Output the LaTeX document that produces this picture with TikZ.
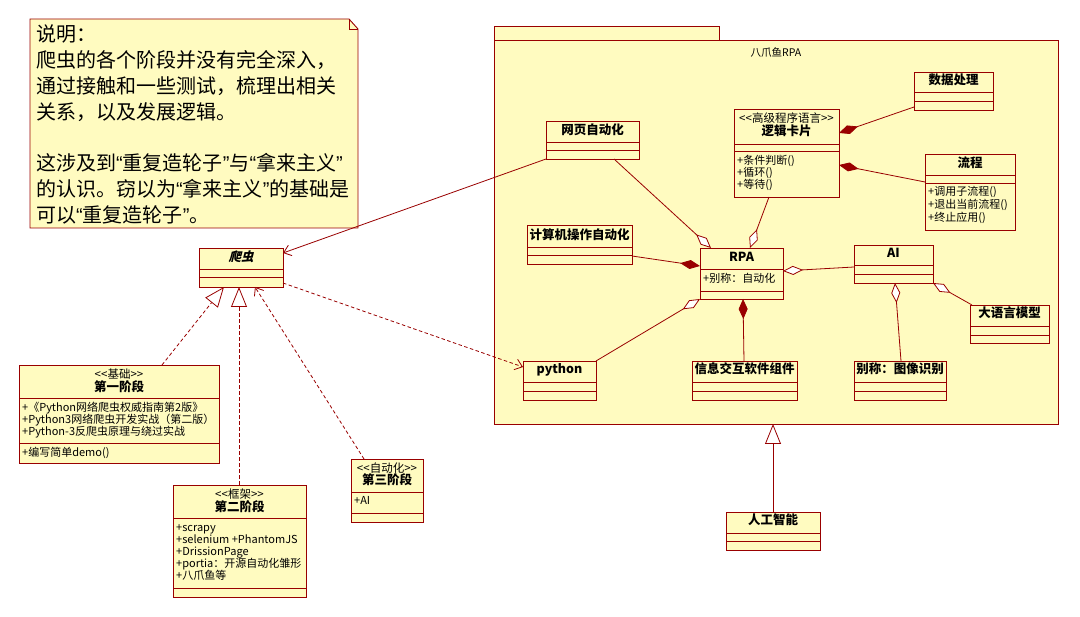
\documentclass[tikz,border=0pt]{standalone}
\usepackage{fontspec}
\setmainfont{Noto Sans CJK SC}
\newfontfamily\slfont{Noto Sans CJK SC}[FakeSlant=0.25]
\newfontfamily\qfont{Liberation Sans}
\usetikzlibrary{arrows.meta}
\definecolor{lc}{HTML}{990000}
\definecolor{fc}{HTML}{FFFBC0}
\newcommand{\stL}{<\kern0pt<}
\newcommand{\stR}{>\kern0pt>}
\newcommand{\qo}{{\qfont “}}
\newcommand{\qc}{{\qfont ”}}
\tikzset{
  cbox/.style={draw=lc, fill=fc, line width=0.9pt, inner sep=0pt, outer sep=0pt, anchor=north west},
  divl/.style={draw=lc, line width=0.9pt},
  ttl/.style={font=\fontsize{12.5}{14}\selectfont\bfseries, inner sep=0pt, text height=8.5pt, text depth=2.5pt},
  ster/.style={font=\fontsize{11.5}{13}\selectfont, inner sep=0pt, text height=8pt, text depth=2.5pt},
  attr/.style={font=\fontsize{11}{13}\selectfont, inner sep=0pt, anchor=west, text height=8pt, text depth=2.5pt},
  conn/.style={draw=lc, line width=0.8pt},
  dsh/.style={dash pattern=on 3.5pt off 2.5pt},
  aggline/.style={conn, -{Diamond[fill=white, length=20pt, width=9pt]}},
  compline/.style={conn, -{Diamond[fill=lc, length=20pt, width=9pt]}},
  genline/.style={conn, -{Triangle[fill=white, length=20pt, width=16pt]}},
  realline/.style={conn, dsh, -{Triangle[fill=white, length=20pt, width=16pt]}},
  depline/.style={conn, dsh, -{Straight Barb[length=7pt, width=11pt]}},
  assocline/.style={conn, -{Straight Barb[length=7pt, width=11pt]}},
}
\newcommand{\umlclass}[7]{%
  \node[cbox, minimum width={(#4-#2)*1pt}, minimum height={(#5-#3)*1pt}] (#1) at (#2,#3) {};
  \draw[divl] (#2,#6) -- (#4,#6);
  \draw[divl] (#2,#7) -- (#4,#7);
}
\begin{document}
\begin{tikzpicture}[x=1pt, y=-1pt]
\useasboundingbox[fill=white] (0,0) rectangle (1080,617);

% note
\draw[draw=lc, fill=fc, line width=0.9pt] (30,19) -- (349,19) -- (358,29) -- (358,228) -- (30,228) -- cycle;
\draw[draw=lc, line width=0.9pt] (349,19) -- (349,29) -- (358,29);
\node[anchor=north west, align=left, inner sep=0pt, font=\fontsize{20}{25.8}\selectfont] (notetext) at (36,25)
  {说明：\\爬虫的各个阶段并没有完全深入，\\通过接触和一些测试，梳理出相关\\关系，以及发展逻辑。\\[25.8pt]这涉及到\qo 重复造轮子\qc 与\qo 拿来主义\qc\\的认识。窃以为\qo 拿来主义\qc 的基础是\\可以\qo 重复造轮子\qc 。};

% package
\node[cbox, minimum width=225pt, minimum height=14pt] (pkgtab) at (494,26) {};
\node[cbox, minimum width=564pt, minimum height=384pt] (pkg) at (494,40) {};
\node[font=\fontsize{10.5}{12}\selectfont, inner sep=0pt] (pkgname) at (776,52) {八爪鱼RPA};

% classes
\umlclass{crawl}{199}{248}{283}{287}{269}{277}
\node[ttl] (crawlT) at (241,258.5) {\slfont\bfseries 爬虫};

\umlclass{s1}{19}{365}{219}{463}{398}{443}
\node[ster] (s1S) at (119,376) {\stL 基础\stR};
\node[ttl] (s1T) at (119,389) {第一阶段};
\node[attr] (s1a) at (22,409) {+《Python网络爬虫权威指南第2版》};
\node[attr] (s1b) at (22,421) {+Python3网络爬虫开发实战（第二版）};
\node[attr] (s1c) at (22,433) {+Python-3反爬虫原理与绕过实战};
\node[attr] (s1d) at (22,454) {+编写简单demo()};

\umlclass{s2}{173}{485}{306}{597}{518}{588}
\node[ster] (s2S) at (239.5,496) {\stL 框架\stR};
\node[ttl] (s2T) at (239.5,509) {第二阶段};
\node[attr] (s2a) at (176,529) {+scrapy};
\node[attr] (s2b) at (176,541) {+selenium +PhantomJS};
\node[attr] (s2c) at (176,553) {+DrissionPage};
\node[attr] (s2d) at (176,565) {+portia：开源自动化雏形};
\node[attr] (s2e) at (176,577) {+八爪鱼等};

\umlclass{s3}{351}{459}{423}{522}{492}{513}
\node[ster] (s3S) at (387,470) {\stL 自动化\stR};
\node[ttl] (s3T) at (387,482) {第三阶段};
\node[attr] (s3a) at (354,502) {+AI};

\umlclass{web}{546}{121}{639}{159}{142}{150}
\node[ttl] (webT) at (592.5,132) {网页自动化};

\umlclass{logic}{734}{109}{839}{197}{144}{151}
\node[ster] (logicS) at (786.5,120) {\stL 高级程序语言\stR};
\node[ttl] (logicT) at (786.5,133) {逻辑卡片};
\node[attr] (logica) at (737,162) {+条件判断()};
\node[attr] (logicb) at (737,174) {+循环()};
\node[attr] (logicc) at (737,186) {+等待()};

\umlclass{data}{914}{72}{993}{110}{92}{101}
\node[ttl] (dataT) at (953.5,82) {数据处理};

\umlclass{flow}{925}{154}{1015}{230}{175}{183}
\node[ttl] (flowT) at (970,165) {流程};
\node[attr] (flowa) at (928,193) {+调用子流程()};
\node[attr] (flowb) at (928,206) {+退出当前流程()};
\node[attr] (flowc) at (928,219) {+终止应用()};

\umlclass{comp}{527}{225}{632}{264}{247}{255}
\node[ttl] (compT) at (579.5,237) {计算机操作自动化};

\umlclass{rpa}{700}{248}{783}{299}{269}{291}
\node[ttl] (rpaT) at (741.5,259) {RPA};
\node[attr] (rpaa) at (703,280) {+别称：自动化};

\umlclass{ai}{854}{245}{933}{283}{265}{274}
\node[ttl] (aiT) at (893.5,255) {AI};

\umlclass{llm}{970}{305}{1049}{343}{326}{335}
\node[ttl] (llmT) at (1009.5,315) {大语言模型};

\umlclass{img}{854}{361}{946}{400}{382}{391}
\node[ttl] (imgT) at (900,371) {别称：图像识别};

\umlclass{py}{523}{361}{596}{400}{382}{391}
\node[ttl] (pyT) at (559.5,371) {python};

\umlclass{info}{692}{361}{797}{400}{382}{391}
\node[ttl] (infoT) at (744.5,371) {信息交互软件组件};

\umlclass{aiall}{726}{512}{820}{550}{533}{541}
\node[ttl] (aiallT) at (773,522) {人工智能};

% connectors
\draw[assocline] (web.south west) -- ([yshift=-5pt]crawl.north east);
\draw[aggline] ([xshift=-25pt]web.south east) -- ([xshift=11pt]rpa.north west);
\draw[aggline] ([xshift=35pt]logic.south west) -- ([xshift=50pt]rpa.north west);
\draw[compline] ([yshift=3pt]data.south west) -- ([yshift=-24pt]logic.north east);
\draw[compline] ([yshift=-28pt]flow.north west) -- ([yshift=-56pt]logic.north east);
\draw[compline] ([yshift=-31pt]comp.north east) -- ([yshift=-18pt]rpa.north west);
\draw[aggline] ([yshift=-22pt]ai.north west) -- ([yshift=-23pt]rpa.north east);
\draw[aggline] ([xshift=2pt]llm.north west) -- (ai.south east);
\draw[aggline] ([xshift=47pt]img.north west) -- ([xshift=41pt]ai.south west);
\draw[aggline] (py.north east) -- (rpa.south west);
\draw[compline] ([xshift=52pt]info.north west) -- ([xshift=43pt]rpa.south west);
\draw[genline] (aiall.north) -- (aiall.north |- pkg.south);
\draw[realline] ([xshift=143pt]s1.north west) -- ([xshift=25pt]crawl.south west);
\draw[realline] ([xshift=66pt]s2.north west) -- ([xshift=66pt]s2.north west |- crawl.south);
\draw[depline] ([xshift=13pt]s3.north west) -- ([xshift=56pt]crawl.south west);
\draw[depline] ([yshift=4pt]crawl.south east) -- ([yshift=-6pt]py.north west);
\end{tikzpicture}
\end{document}
